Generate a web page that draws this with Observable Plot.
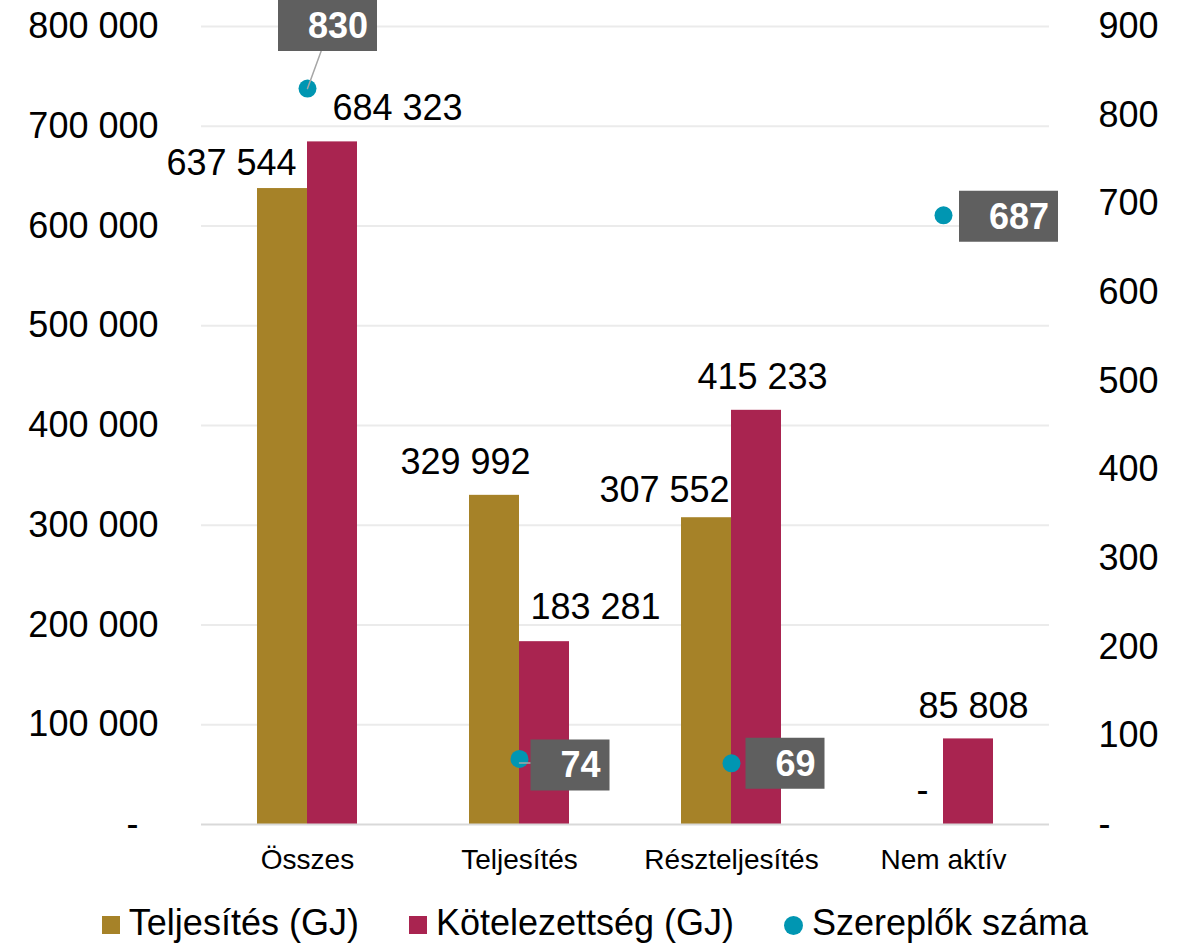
<!DOCTYPE html>
<html><head><meta charset="utf-8">
<script src="https://cdn.jsdelivr.net/npm/d3@7"></script>
<script src="https://cdn.jsdelivr.net/npm/@observablehq/plot@0.6"></script>
<style>
body{margin:0;background:#fff;font-family:"Liberation Sans",Arial,sans-serif;}
#legend{display:flex;justify-content:center;align-items:center;padding-top:22px;height:42px;font-size:36px;line-height:42px;color:#000;}
#legend .item{display:flex;align-items:center;margin:0 25px;}
#legend .sw{width:18px;height:18px;margin-right:9px;margin-top:4px;}
#legend .circ{border-radius:50%;width:19px;height:19px;}
</style></head><body><div id="chart"></div><div id="legend"></div>
<script>
const categories = ["Összes", "Teljesítés", "Részteljesítés", "Nem aktív"];
const seriesNames = ["Teljesítés (GJ)", "Kötelezettség (GJ)", "Szereplők száma"];
const teljesites = [637544, 329992, 307552, 0];
const kotelezettseg = [684323, 183281, 415233, 85808];
const szereplok = [830, 74, 69, 687];
const leftTicks = [0, 100000, 200000, 300000, 400000, 500000, 600000, 700000, 800000];
const rightTicks = [0, 100, 200, 300, 400, 500, 600, 700, 800, 900];

const gold = "#A68228", crimson = "#A92450", teal = "#0096B2", boxGray = "#5F5F5F";
const k = 800000 / 900;
const fmt = d3.formatLocale({thousands: "\u00a0", grouping: [3], decimal: ",", currency: ["", ""]}).format(",");
const lab = v => v === 0 ? "-" : fmt(v);

const bars = [];
categories.forEach((c, i) => {
  bars.push({category: c, series: seriesNames[0], value: teljesites[i]});
  bars.push({category: c, series: seriesNames[1], value: kotelezettseg[i]});
});
const dots = categories.map((c, i) => ({category: c, value: szereplok[i]}));

function barLabel(cat, ser, dx, dy) {
  return Plot.text(bars.filter(d => d.category === cat && d.series === seriesNames[ser]), {
    fx: "category", x: "series", y: "value", text: d => lab(d.value),
    fontSize: 36, fill: "#000", dx, dy
  });
}
function boxSymbol(w) { return {draw(ctx) { ctx.rect(-w / 2, -25.5, w, 51); }}; }
function dotLabel(cat, dx, dy) {
  const data = dots.filter(d => d.category === cat);
  const w = String(data[0].value).length > 2 ? 99 : 79;
  return [
    Plot.dot(data, {fx: "category", y: d => d.value * k, symbol: boxSymbol(w), r: 1, fill: boxGray, dx, dy}),
    Plot.text(data, {fx: "category", y: d => d.value * k, text: d => String(d.value), fill: "#fff",
      fontWeight: "bold", fontSize: 36, textAnchor: "end", dx: dx + w / 2 - 9, dy: dy + 1})
  ];
}

const chart = Plot.plot({
  width: 1190, height: 880,
  marginTop: 26, marginBottom: 56, marginLeft: 200, marginRight: 141,
  style: {fontFamily: "Liberation Sans, Arial, sans-serif", fontSize: "36px", color: "#000", background: "#fff"},
  fx: {domain: categories, padding: 0, label: null},
  x: {domain: seriesNames.slice(0, 2), paddingInner: 0, paddingOuter: 1.12, axis: null},
  y: {domain: [0, 800000]},
  color: {domain: seriesNames.slice(0, 2), range: [gold, crimson]},
  marks: [
    Plot.gridY(leftTicks.slice(1), {stroke: "#ebebeb", strokeOpacity: 1, strokeWidth: 2}),
    Plot.axisY(leftTicks, {anchor: "left", tickSize: 0, tickPadding: 43, fontSize: 36,
      tickFormat: d => d === 0 ? "-\u00a0\u00a0" : fmt(d), label: null}),
    Plot.axisY(rightTicks.map(v => v * k), {anchor: "right", tickSize: 0, tickPadding: 49, fontSize: 36,
      tickFormat: d => { const v = Math.round(d / k); return v === 0 ? "-" : String(v); }, label: null}),
    Plot.axisFx({anchor: "bottom", tickSize: 0, tickPadding: 25, fontSize: 28, label: null}),
    Plot.barY(bars, {fx: "category", x: "series", y: "value", fill: "series"}),
    Plot.ruleY([0], {stroke: "#d9d9d9", strokeWidth: 2}),
    barLabel("Összes", 0, -51, -25),
    barLabel("Összes", 1, 65, -33),
    barLabel("Teljesítés", 0, -29, -33),
    barLabel("Teljesítés", 1, 51, -34),
    barLabel("Részteljesítés", 0, -42, -27),
    barLabel("Részteljesítés", 1, 6, -33),
    barLabel("Nem aktív", 0, 4, -34),
    barLabel("Nem aktív", 1, 5, -32),
    Plot.dot(dots, {fx: "category", y: d => d.value * k, r: 9, fill: teal}),
    Plot.vector(dots.filter(d => d.category === "Összes"), {fx: "category", y: d => d.value * k,
      length: 40, rotate: 20, anchor: "start", r: 0, stroke: "#a6a6a6", strokeWidth: 1.5}),
    Plot.vector(dots.filter(d => d.category === "Teljesítés"), {fx: "category", y: d => d.value * k,
      length: 11, rotate: 90, anchor: "start", r: 0, stroke: "#a6a6a6", strokeWidth: 1.5, dy: 4}),
    ...dotLabel("Összes", 20, -63),
    ...dotLabel("Teljesítés", 50.5, 6),
    ...dotLabel("Részteljesítés", 53.5, 0),
    ...dotLabel("Nem aktív", 65, 1)
  ]
});
document.getElementById("chart").appendChild(chart);

const legendItems = [
  {name: seriesNames[0], color: gold, circle: false},
  {name: seriesNames[1], color: crimson, circle: false},
  {name: seriesNames[2], color: teal, circle: true}
];
const lg = document.getElementById("legend");
legendItems.forEach(it => {
  const item = document.createElement("div"); item.className = "item";
  const sw = document.createElement("span"); sw.className = "sw" + (it.circle ? " circ" : "");
  sw.style.background = it.color;
  const t = document.createElement("span"); t.textContent = it.name;
  item.appendChild(sw); item.appendChild(t); lg.appendChild(item);
});
</script></body></html>
